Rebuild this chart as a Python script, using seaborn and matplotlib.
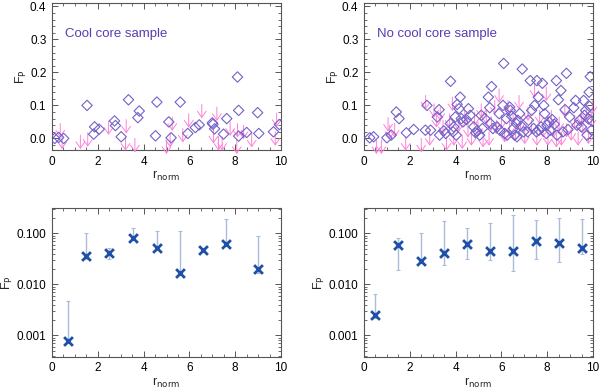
import numpy as np
import pandas as pd
import matplotlib
matplotlib.use("Agg")
import matplotlib.pyplot as plt
from matplotlib.ticker import MultipleLocator, LogLocator, FixedLocator, NullFormatter
import seaborn as sns

sns.set_style("ticks")
plt.rcParams['font.family'] = ['Liberation Sans', 'DejaVu Sans']
plt.rcParams['font.size'] = 8.5

# --- Cool core sample: detections (diamonds) and upper limits (arrows)
cc_det_r = [0.12, 0.29, 0.51, 1.53, 1.82, 1.86, 2.06, 2.73, 2.77, 3.02, 3.34, 3.81, 3.75,
            4.52, 4.58, 5.10, 5.20, 5.60, 5.93, 6.26, 6.43, 7.00, 7.03, 7.10, 7.49, 7.63,
            8.10, 8.15, 8.15, 8.50, 8.98, 9.03, 9.67, 9.93]
cc_det_f = [0.000, 0.003, 0.000, 0.100, 0.013, 0.035, 0.028, 0.053, 0.039, 0.005, 0.117,
            0.083, 0.063, 0.008, 0.110, 0.050, 0.002, 0.110, 0.015, 0.033, 0.041, 0.047,
            0.043, 0.029, 0.013, 0.060, 0.186, 0.085, 0.007, 0.018, 0.078, 0.015, 0.020, 0.042]
cc_lim_r = [0.36, 0.44, 1.24, 1.56, 2.47, 3.24, 3.21, 3.62, 5.00, 5.25, 5.16, 5.71, 5.97,
            6.54, 7.20, 7.05, 7.27, 7.43, 7.78, 8.10, 8.36, 8.72, 9.81, 9.75, 8.07]
cc_lim_f = [0.045, 0.010, 0.010, 0.017, 0.053, 0.057, 0.005, 0.000, -0.005, 0.065, 0.015,
            0.030, 0.075, 0.103, 0.095, 0.027, 0.005, 0.005, 0.050, 0.045, 0.040, 0.015,
            0.077, 0.020, -0.005]

# --- No cool core sample
ncc_det_r = [0.25, 0.42, 1.00, 1.19, 1.41, 1.53, 1.85, 2.17, 2.68, 2.75, 2.91, 3.20, 3.28,
             3.30, 3.48, 3.57, 3.77, 3.78, 3.99, 4.03, 4.07, 4.15, 4.20, 4.25, 4.32, 4.47,
             4.56, 4.64, 4.79, 4.88, 4.93, 5.05, 5.12, 5.28, 5.43, 5.49, 5.52, 5.57, 5.63,
             5.81, 5.90, 6.07, 6.10, 6.14, 6.22, 6.25, 6.36, 6.39, 6.45, 6.58, 6.65, 6.68,
             6.72, 6.80, 6.87, 6.91, 6.97, 7.18, 7.26, 7.32, 7.41, 7.45, 7.53, 7.55, 7.61,
             7.64, 7.73, 7.79, 7.85, 7.89, 7.96, 8.08, 8.14, 8.22, 8.31, 8.40, 8.43, 8.49,
             8.60, 8.69, 8.78, 8.84, 8.91, 8.98, 9.16, 9.24, 9.30, 9.42, 9.49, 9.59, 9.63,
             9.68, 9.74, 9.80, 9.83, 9.85, 9.88, 9.93, 9.96, 7.99, 7.15, 5.93, 6.52, 5.17,
             3.92, 3.89]
ncc_det_f = [0.002, 0.005, 0.002, 0.010, 0.080, 0.060, 0.017, 0.027, 0.025, 0.100, 0.025,
             0.065, 0.087, 0.010, 0.023, 0.015, 0.045, 0.173, 0.065, 0.010, 0.103, 0.090,
             0.125, 0.060, 0.050, 0.057, 0.090, 0.070, 0.035, 0.017, 0.023, 0.010, 0.070,
             0.060, 0.125, 0.093, 0.045, 0.157, 0.030, 0.035, 0.075, 0.100, 0.227, 0.015,
             0.060, 0.010, 0.095, 0.085, 0.067, 0.010, 0.045, 0.005, 0.055, 0.075, 0.037,
             0.210, 0.020, 0.055, 0.175, 0.085, 0.030, 0.100, 0.020, 0.175, 0.125, 0.025,
             0.035, 0.167, 0.100, 0.075, 0.015, 0.050, 0.025, 0.057, 0.043, 0.175, 0.010,
             0.117, 0.145, 0.020, 0.087, 0.197, 0.027, 0.065, 0.093, 0.115, 0.040, 0.055,
             0.035, 0.115, 0.070, 0.085, 0.010, 0.059, 0.140, 0.097, 0.187, 0.025, 0.053,
             0.040, 0.020, 0.025, 0.030, 0.030, 0.035, 0.020]
ncc_lim_r = [1.05, 1.12, 1.34, 0.54, 0.76, 1.82, 2.50, 2.69, 2.87, 3.06, 3.16, 3.33, 3.45,
             3.60, 3.74, 3.86, 3.92, 4.15, 4.29, 4.40, 4.54, 4.69, 4.83, 4.98, 5.12, 5.20,
             5.34, 5.46, 5.56, 5.71, 5.78, 5.90, 6.00, 6.14, 6.29, 6.36, 6.51, 6.62, 6.77,
             6.83, 7.02, 7.16, 7.31, 7.45, 7.55, 7.67, 7.82, 7.96, 8.03, 8.18, 8.28, 8.40,
             8.52, 8.62, 8.77, 8.84, 9.05, 9.20, 9.35, 9.49, 9.56, 9.71, 9.80, 9.93, 9.97]
ncc_lim_f = [0.063, 0.040, 0.045, -0.005, -0.005, 0.005, 0.000, 0.130, 0.020, 0.105, 0.075,
             0.095, 0.055, 0.005, 0.075, 0.125, 0.020, 0.063, 0.010, 0.085, 0.045, 0.020,
             0.080, 0.050, 0.105, 0.015, 0.085, 0.020, 0.065, 0.115, 0.055, 0.150, 0.070,
             0.030, 0.115, 0.050, 0.085, 0.035, 0.130, 0.065, 0.025, 0.095, 0.055, 0.165,
             0.020, 0.085, 0.045, 0.155, 0.020, 0.085, 0.045, 0.015, 0.065, 0.020, 0.105,
             0.045, 0.035, 0.070, 0.020, 0.085, 0.055, 0.095, 0.025, 0.075, 0.115]

# --- Binned polarised fraction (log panels)
cc_bin_r = [0.7, 1.5, 2.5, 3.55, 4.6, 5.6, 6.6, 7.6, 9.0]
cc_bin_f = [0.00076, 0.036, 0.041, 0.082, 0.052, 0.017, 0.047, 0.062, 0.020]
cc_bin_lo = [0.00076, 0.032, 0.031, 0.074, 0.047, 0.015, 0.045, 0.056, 0.0165]
cc_bin_hi = [0.0047, 0.100, 0.052, 0.125, 0.110, 0.110, 0.050, 0.190, 0.089]

ncc_bin_r = [0.5, 1.5, 2.5, 3.5, 4.5, 5.5, 6.5, 7.5, 8.5, 9.5]
ncc_bin_f = [0.0025, 0.059, 0.029, 0.042, 0.061, 0.045, 0.045, 0.072, 0.066, 0.052]
ncc_bin_lo = [0.0022, 0.019, 0.026, 0.024, 0.031, 0.030, 0.018, 0.031, 0.028, 0.039]
ncc_bin_hi = [0.0066, 0.080, 0.100, 0.175, 0.125, 0.160, 0.230, 0.180, 0.200, 0.190]

labels = ["Cool core sample", "No cool core sample"]

diam_col = "#7262c8"
arrow_col = "#ff80d8"
text_col = "#5a3cb4"
x_col = "#1f4fa6"
err_col = "#a9bdd9"
frame_col = "#555555"

fig = plt.figure(figsize=(6.0, 3.91), dpi=100)
w, h = 229 / 600, 147 / 391
pos = {
    (0, 0): [52 / 600, 1 - 150 / 391, w, h],
    (0, 1): [364 / 600, 1 - 150 / 391, w, h],
    (1, 0): [52 / 600, 1 - 356.7 / 391, w, 148.4 / 391],
    (1, 1): [364 / 600, 1 - 356.7 / 391, w, 148.4 / 391],
}


def style_axes(ax):
    for s in ax.spines.values():
        s.set_color(frame_col)
        s.set_linewidth(0.8)
    ax.tick_params(which="both", direction="in", top=True, right=True,
                   color=frame_col, labelsize=8.5, labelcolor="black")
    ax.tick_params(which="major", length=4, width=0.7, pad=4)
    ax.tick_params(which="minor", length=2, width=0.6)
    ax.set_xlim(0, 10)
    ax.xaxis.set_major_locator(MultipleLocator(2))
    ax.xaxis.set_minor_locator(MultipleLocator(0.5))
    ax.set_xlabel(r"r$_{\rm norm}$", labelpad=1, fontsize=9)
    ax.set_ylabel(r"F$_{\rm P}$", labelpad=1, fontsize=9)


scatter_sets = [
    (cc_det_r, cc_det_f, cc_lim_r, cc_lim_f),
    (ncc_det_r, ncc_det_f, ncc_lim_r, ncc_lim_f),
]
arrow_len = 0.042

for j, (dr, df_, lr, lf) in enumerate(scatter_sets):
    ax = fig.add_axes(pos[(0, j)])
    lims = pd.DataFrame({"r": lr, "f": lf})
    for r, f in zip(lims["r"], lims["f"]):
        ax.annotate("", xy=(r, f - arrow_len), xytext=(r, f),
                    arrowprops=dict(arrowstyle="->,head_length=0.5,head_width=0.35",
                                    color=arrow_col, lw=0.7,
                                    shrinkA=0, shrinkB=0, mutation_scale=9),
                    annotation_clip=False)
    det = pd.DataFrame({"r": dr, "f": df_})
    sns.scatterplot(data=det, x="r", y="f", ax=ax, marker="D", s=28,
                    facecolor="none", edgecolor=diam_col, linewidth=0.8, zorder=3)
    ax.set_ylim(-0.035, 0.41)
    ax.yaxis.set_major_locator(MultipleLocator(0.1))
    ax.yaxis.set_minor_locator(MultipleLocator(0.02))
    ax.yaxis.set_major_formatter(matplotlib.ticker.FormatStrFormatter("%.1f"))
    style_axes(ax)
    ax.text(0.57, 0.316, labels[j], color=text_col, fontsize=9.5, va="center")

bin_sets = [
    (cc_bin_r, cc_bin_f, cc_bin_lo, cc_bin_hi),
    (ncc_bin_r, ncc_bin_f, ncc_bin_lo, ncc_bin_hi),
]
for j, (br, bf, blo, bhi) in enumerate(bin_sets):
    ax = fig.add_axes(pos[(1, j)])
    bins = pd.DataFrame({"r": br, "f": bf, "lo": blo, "hi": bhi})
    ax.errorbar(bins["r"], bins["f"],
                yerr=[bins["f"] - bins["lo"], bins["hi"] - bins["f"]],
                fmt="none", ecolor=err_col, elinewidth=1.0, capsize=1.5, capthick=0.8)
    sns.scatterplot(data=bins, x="r", y="f", ax=ax, marker="x", s=40,
                    color=x_col, linewidth=2.0, zorder=3)
    ax.set_yscale("log")
    ax.set_ylim(0.00038, 0.31)
    ax.yaxis.set_major_locator(FixedLocator([0.001, 0.01, 0.1]))
    ax.yaxis.set_major_formatter(matplotlib.ticker.FixedFormatter(["0.001", "0.010", "0.100"]))
    ax.yaxis.set_minor_locator(LogLocator(base=10, subs=np.arange(2, 10), numticks=20))
    ax.yaxis.set_minor_formatter(NullFormatter())
    style_axes(ax)

fig.savefig("out.png", dpi=100)
